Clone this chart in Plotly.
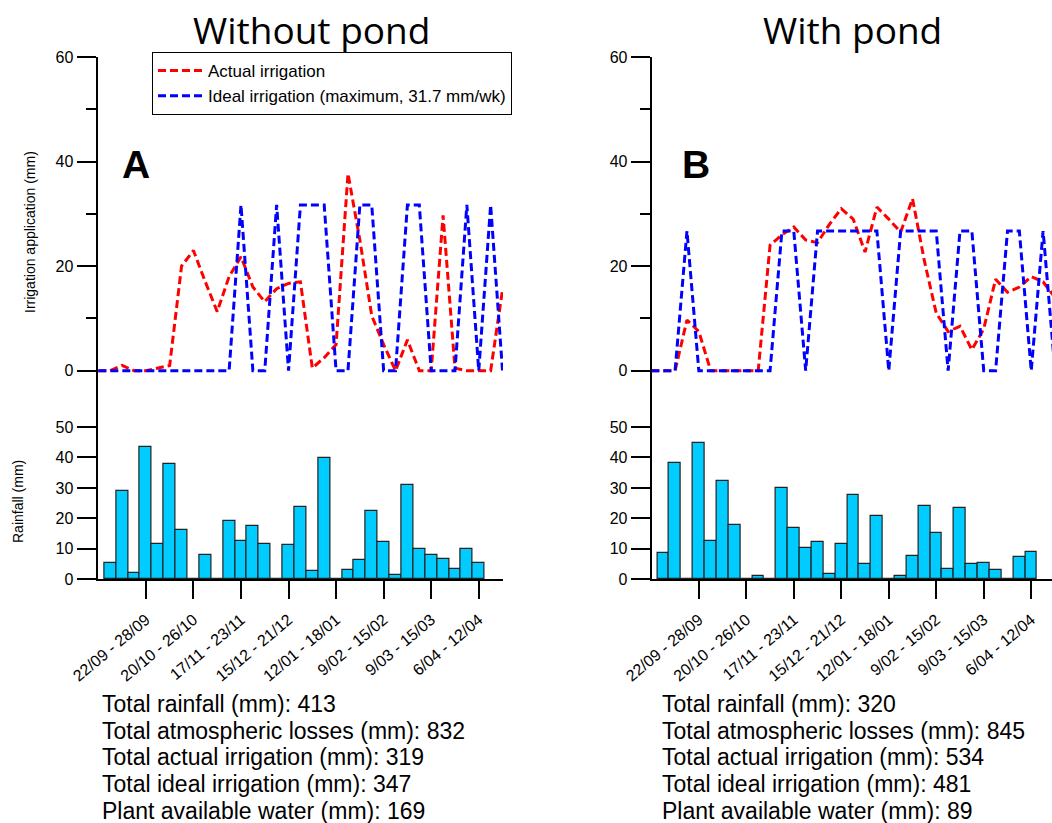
import plotly.graph_objects as go

# ---------------- data ----------------
weeks_bar = list(range(32))          # weekly rainfall bars (week 0 = 1/09 - 7/09)
weeks_line = list(range(-1, 34))     # weekly irrigation points
tick_weeks = [3, 7, 11, 15, 19, 23, 27, 31]
tick_labels = ["22/09 - 28/09", "20/10 - 26/10", "17/11 - 23/11", "15/12 - 21/12",
               "12/01 - 18/01", "9/02 - 15/02", "9/03 - 15/03", "6/04 - 12/04"]

rain_a = [5.4, 29.1, 2.2, 43.3, 11.6, 38.0, 16.2, 0, 8.1, 0, 19.3, 12.5, 17.5, 11.6, 0, 11.2,
          23.7, 2.6, 39.8, 0, 3.2, 6.3, 22.4, 12.1, 1.4, 30.8, 9.9, 8.0, 6.7, 3.5, 9.9, 5.4]
rain_b = [8.6, 38.1, 0, 44.7, 12.5, 32.3, 17.9, 0, 1.0, 0, 30.0, 16.7, 10.3, 12.1, 1.9, 11.6,
          27.8, 4.9, 20.7, 0, 1.0, 7.7, 24.2, 15.3, 3.5, 23.3, 4.9, 5.4, 3.1, 0, 7.3, 8.9]

actual_a = [0, 0, 1.0, 0, 0, 0.5, 1.0, 20.0, 23.0, 17.0, 11.3, 18.0, 21.8, 16.0, 13.2, 15.7, 16.7,
            17.0, 0.5, 2.5, 5.0, 37.7, 25.0, 10.5, 5.0, 0, 5.9, 0, 0, 29.7, 0.5, 0, 0, 0, 15.5]
ideal_a = [0, 0, 0, 0, 0, 0, 0, 0, 0, 0, 0, 0, 31.7, 0, 0, 31.7, 0, 31.7, 31.7, 31.7, 0, 0,
           31.7, 31.7, 0, 0, 31.7, 31.7, 0, 0, 0, 31.7, 0, 31.7, 0]
actual_b = [0, 0, 0, 9.7, 7.5, 0, 0, 0, 0, 0, 24.0, 26.0, 27.5, 25.0, 24.5, 28.0, 31.0, 29.0,
            22.7, 31.3, 29.0, 26.5, 32.9, 21.0, 11.0, 7.5, 8.5, 4.0, 8.0, 17.5, 15.0, 16.0,
            18.0, 17.0, 14.0]
ideal_b = [0, 0, 0, 26.7, 0, 0, 0, 0, 0, 0, 0, 26.7, 26.7, 0, 26.7, 26.7, 26.7, 26.7, 26.7,
           26.7, 0, 26.7, 26.7, 26.7, 26.7, 0, 26.7, 26.7, 0, 0, 26.7, 26.7, 0, 26.7, 0]

totals_a = ["Total rainfall (mm): 413", "Total atmospheric losses (mm): 832",
            "Total actual irrigation (mm): 319", "Total ideal irrigation (mm): 347",
            "Plant available water (mm): 169"]
totals_b = ["Total rainfall (mm): 320", "Total atmospheric losses (mm): 845",
            "Total actual irrigation (mm): 534", "Total ideal irrigation (mm): 481",
            "Plant available water (mm): 89"]

# ---------------- layout helpers ----------------
W, H = 1052, 823
def px(x):
    return x / W
def py(y):
    return 1 - y / H

FONT = "Liberation Sans, Arial, sans-serif"
RED = "#ff0000"
BLUE = "#0000ff"
BARC = "#00ccff"
DASH = "8px,4px"

fig = go.Figure()

# left panel
fig.add_trace(go.Scatter(x=weeks_line, y=actual_a, mode="lines", name="Actual irrigation",
                         line=dict(color=RED, width=3, dash=DASH), xaxis="x", yaxis="y"))
fig.add_trace(go.Scatter(x=weeks_line, y=ideal_a, mode="lines",
                         name="Ideal irrigation (maximum, 31.7 mm/wk)",
                         line=dict(color=BLUE, width=3, dash=DASH), xaxis="x", yaxis="y"))
fig.add_trace(go.Bar(x=weeks_bar, y=rain_a, width=1, marker=dict(color=BARC,
                     line=dict(color="#222222", width=1.2)), showlegend=False,
                     xaxis="x2", yaxis="y2"))
# right panel
fig.add_trace(go.Scatter(x=weeks_line, y=actual_b, mode="lines", showlegend=False,
                         line=dict(color=RED, width=3, dash=DASH), xaxis="x3", yaxis="y3"))
fig.add_trace(go.Scatter(x=weeks_line, y=ideal_b, mode="lines", showlegend=False,
                         line=dict(color=BLUE, width=3, dash=DASH), xaxis="x3", yaxis="y3"))
fig.add_trace(go.Bar(x=weeks_bar, y=rain_b, width=1, marker=dict(color=BARC,
                     line=dict(color="#222222", width=1.2)), showlegend=False,
                     xaxis="x4", yaxis="y4"))

xl = [px(97.5), px(503)]
xr = [px(651.7), 1.0]
ytop = [py(400), py(57)]
ybar = [py(579.3), py(400)]
rng_l = [-1.07, 33.04]
rng_r = [-0.97, 32.75]

def top_x(dom, rng, anchor):
    return dict(domain=dom, range=rng, anchor=anchor, showline=False, showticklabels=False,
                ticks="", showgrid=False, zeroline=False, automargin=False)

def bar_x(dom, rng, anchor):
    return dict(domain=dom, range=rng, anchor=anchor, showline=True, linecolor="black",
                linewidth=2, ticks="outside", ticklen=18, tickwidth=2, tickcolor="black",
                tickvals=tick_weeks, ticktext=tick_labels, tickangle=-40,
                ticklabelstandoff=5,
                tickfont=dict(family=FONT, size=16, color="black"),
                showgrid=False, zeroline=False, automargin=False)

def top_y(dom, anchor):
    return dict(domain=dom, range=[-5.6, 60], anchor=anchor, showline=True, linecolor="black",
                linewidth=2, ticks="outside", ticklen=19, tickwidth=2, tickcolor="black",
                tickvals=[0, 20, 40, 60], tickfont=dict(family=FONT, size=16, color="black"),
                minor=dict(tickvals=[10, 30, 50], ticks="outside", ticklen=10, tickwidth=2,
                           tickcolor="black", showgrid=False),
                showgrid=False, zeroline=False, automargin=False)

def bar_y(dom, anchor):
    return dict(domain=dom, range=[0, 58.86], anchor=anchor, showline=True, linecolor="black",
                linewidth=2, ticks="outside", ticklen=19, tickwidth=2, tickcolor="black",
                tickvals=[0, 10, 20, 30, 40, 50], tickfont=dict(family=FONT, size=16, color="black"),
                showgrid=False, zeroline=False, automargin=False)

annotations = []
annotations.append(dict(text="Without pond", x=px(311), y=py(29), xref="paper", yref="paper",
                        showarrow=False, font=dict(family="Open Sans", size=37, color="black"),
                        xanchor="center", yanchor="middle"))
annotations.append(dict(text="With pond", x=px(852), y=py(29), xref="paper", yref="paper",
                        showarrow=False, font=dict(family="Open Sans", size=37, color="black"),
                        xanchor="center", yanchor="middle"))
annotations.append(dict(text="<b>A</b>", x=px(136), y=py(164), xref="paper", yref="paper",
                        showarrow=False, font=dict(family=FONT, size=39, color="black"),
                        xanchor="center", yanchor="middle"))
annotations.append(dict(text="<b>B</b>", x=px(696), y=py(164), xref="paper", yref="paper",
                        showarrow=False, font=dict(family=FONT, size=39, color="black"),
                        xanchor="center", yanchor="middle"))
annotations.append(dict(text="Irrigation application (mm)", x=px(30), y=py(232), xref="paper",
                        yref="paper", showarrow=False, textangle=-90,
                        font=dict(family=FONT, size=14, color="black"),
                        xanchor="center", yanchor="middle"))
annotations.append(dict(text="Rainfall (mm)", x=px(18), y=py(502), xref="paper",
                        yref="paper", showarrow=False, textangle=-90,
                        font=dict(family=FONT, size=14, color="black"),
                        xanchor="center", yanchor="middle"))
for i, (ta, tb) in enumerate(zip(totals_a, totals_b)):
    yy = py(704 + 26.7 * i)
    annotations.append(dict(text=ta, x=px(100), y=yy, xref="paper", yref="paper",
                            showarrow=False, font=dict(family=FONT, size=23, color="black"),
                            xanchor="left", yanchor="middle"))
    annotations.append(dict(text=tb, x=px(660), y=yy, xref="paper", yref="paper",
                            showarrow=False, font=dict(family=FONT, size=23, color="black"),
                            xanchor="left", yanchor="middle"))

fig.update_layout(
    width=W, height=H,
    margin=dict(l=0, r=0, t=0, b=0, pad=0, autoexpand=False),
    paper_bgcolor="white", plot_bgcolor="white",
    xaxis=top_x(xl, rng_l, "y"), yaxis=top_y(ytop, "x"),
    xaxis2=bar_x(xl, rng_l, "y2"), yaxis2=bar_y(ybar, "x2"),
    xaxis3=top_x(xr, rng_r, "y3"), yaxis3=top_y(ytop, "x3"),
    xaxis4=bar_x(xr, rng_r, "y4"), yaxis4=bar_y(ybar, "x4"),
    bargap=0,
    showlegend=True,
    legend=dict(x=px(152), y=py(52), xanchor="left", yanchor="top",
                bordercolor="black", borderwidth=1, bgcolor="white",
                font=dict(family=FONT, size=17, color="black"), tracegroupgap=0,
                itemwidth=45),
    annotations=annotations,
)

fig.write_html("out.html", config={"displayModeBar": False},
               post_script="document.body.style.margin='0';")
